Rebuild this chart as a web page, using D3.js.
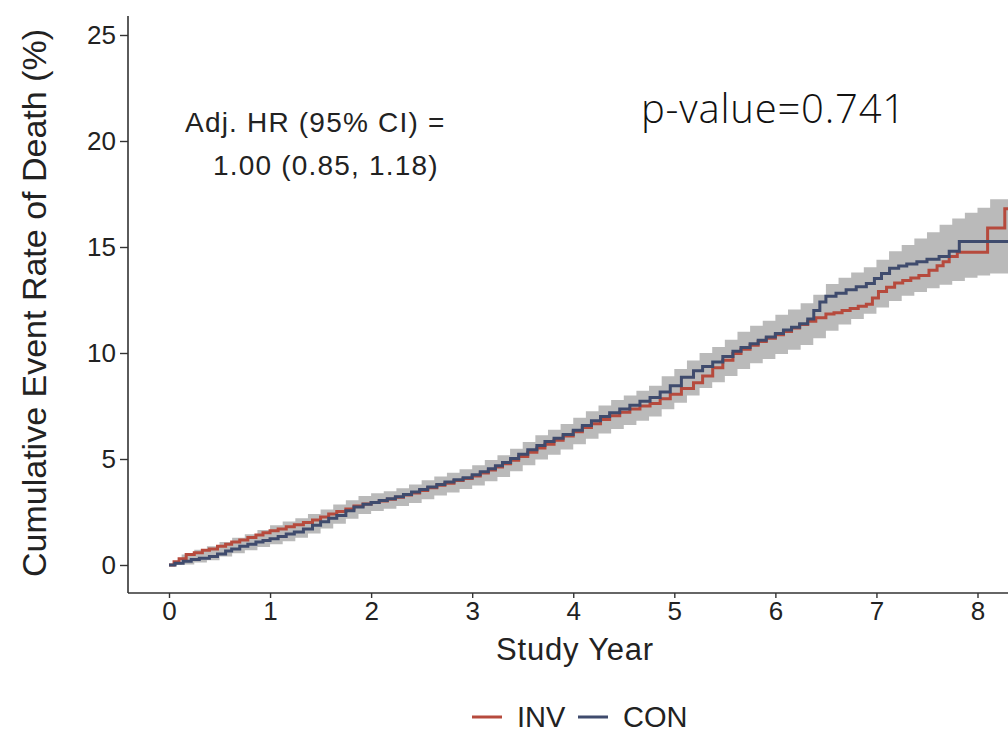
<!DOCTYPE html>
<html>
<head>
<meta charset="utf-8">
<script src="https://cdn.jsdelivr.net/npm/d3@7"></script>
<style>
  html, body { margin: 0; padding: 0; background: #fff; }
  svg { display: block; }
</style>
</head>
<body>
<svg id="chart" width="1008" height="732"></svg>
<script>
// Cumulative event rate of death (%) by study year, stepwise Kaplan-Meier style
const invTime = [0.00,0.05,0.10,0.17,0.25,0.33,0.40,0.48,0.56,0.62,0.70,0.78,0.86,0.93,1.00,1.08,1.16,1.24,1.33,1.42,1.50,1.58,1.66,1.75,1.83,1.92,2.00,2.08,2.16,2.24,2.32,2.40,2.48,2.56,2.65,2.73,2.82,2.91,3.00,3.08,3.16,3.23,3.30,3.38,3.46,3.55,3.64,3.72,3.81,3.90,4.00,4.09,4.18,4.27,4.36,4.46,4.56,4.66,4.76,4.86,4.96,5.07,5.19,5.28,5.38,5.48,5.58,5.66,5.75,5.83,5.91,6.00,6.08,6.16,6.24,6.32,6.40,6.50,6.58,6.66,6.74,6.82,6.90,6.96,7.02,7.10,7.18,7.26,7.34,7.42,7.52,7.60,7.66,7.72,7.80,8.10,8.27,8.40];
const invRate = [0.00,0.15,0.30,0.50,0.58,0.70,0.76,0.88,0.98,1.08,1.18,1.30,1.42,1.52,1.62,1.70,1.80,1.90,2.00,2.12,2.26,2.40,2.52,2.64,2.78,2.88,2.95,3.02,3.10,3.20,3.30,3.40,3.52,3.64,3.76,3.86,3.98,4.08,4.20,4.34,4.48,4.62,4.78,4.94,5.12,5.32,5.52,5.70,5.88,6.08,6.28,6.48,6.66,6.86,7.04,7.20,7.36,7.50,7.62,7.84,8.06,8.32,8.60,8.92,9.30,9.66,9.98,10.18,10.36,10.54,10.70,10.86,11.02,11.18,11.34,11.50,11.66,11.84,11.90,12.00,12.10,12.20,12.30,12.60,12.90,13.10,13.30,13.42,13.54,13.66,13.90,14.12,14.30,14.55,14.75,15.90,16.80,16.80];

const conTime = [0.00,0.06,0.14,0.22,0.30,0.40,0.48,0.56,0.62,0.70,0.78,0.86,0.93,1.00,1.08,1.16,1.24,1.33,1.42,1.50,1.58,1.66,1.75,1.83,1.92,2.00,2.08,2.16,2.24,2.32,2.40,2.48,2.56,2.65,2.73,2.82,2.91,3.00,3.08,3.16,3.23,3.30,3.38,3.46,3.55,3.64,3.72,3.81,3.90,4.00,4.09,4.18,4.27,4.36,4.46,4.56,4.66,4.76,4.86,4.96,5.07,5.19,5.28,5.38,5.48,5.58,5.66,5.75,5.83,5.91,6.00,6.08,6.16,6.24,6.32,6.38,6.44,6.50,6.60,6.70,6.80,6.90,6.98,7.05,7.13,7.22,7.30,7.40,7.50,7.62,7.72,7.82,8.40];
const conRate = [0.00,0.08,0.18,0.26,0.32,0.40,0.52,0.66,0.76,0.88,0.98,1.08,1.16,1.24,1.34,1.46,1.56,1.70,1.88,2.04,2.20,2.34,2.56,2.74,2.86,2.95,3.04,3.12,3.22,3.32,3.44,3.56,3.68,3.80,3.92,4.02,4.12,4.26,4.40,4.54,4.68,4.84,5.02,5.22,5.44,5.64,5.82,5.98,6.16,6.36,6.58,6.80,7.00,7.18,7.36,7.54,7.72,7.90,8.16,8.46,8.86,9.16,9.36,9.58,9.84,10.08,10.26,10.44,10.60,10.76,10.92,11.08,11.22,11.38,11.60,12.00,12.40,12.68,12.82,12.98,13.12,13.28,13.52,13.75,14.00,14.10,14.20,14.30,14.42,14.55,14.80,15.26,15.26];

// Pointwise confidence envelope
const bandTime = [0.000,0.125,0.250,0.375,0.500,0.625,0.750,0.875,1.000,1.125,1.250,1.375,1.500,1.625,1.750,1.875,2.000,2.125,2.250,2.375,2.500,2.625,2.750,2.875,3.000,3.125,3.250,3.375,3.500,3.625,3.750,3.875,4.000,4.125,4.250,4.375,4.500,4.625,4.750,4.875,5.000,5.125,5.250,5.375,5.500,5.625,5.750,5.875,6.000,6.125,6.250,6.375,6.500,6.625,6.750,6.875,7.000,7.125,7.250,7.375,7.500,7.625,7.750,7.875,8.000,8.125,8.400];
const bandLow  = [0.00,0.02,0.12,0.22,0.40,0.55,0.70,0.85,0.98,1.12,1.28,1.48,1.72,1.95,2.18,2.40,2.55,2.65,2.78,2.92,3.10,3.28,3.42,3.58,3.75,3.95,4.15,4.42,4.70,4.98,5.20,5.45,5.70,5.95,6.20,6.42,6.60,6.80,7.00,7.35,7.65,8.00,8.35,8.62,8.92,9.25,9.52,9.72,9.95,10.15,10.38,10.70,11.05,11.35,11.60,11.85,12.15,12.45,12.70,12.88,13.05,13.22,13.40,13.55,13.65,13.75,13.75];
const bandHigh = [0.05,0.50,0.72,0.88,1.08,1.28,1.45,1.65,1.88,2.05,2.20,2.40,2.62,2.85,3.05,3.25,3.38,3.48,3.62,3.80,4.00,4.18,4.35,4.52,4.70,4.95,5.18,5.48,5.80,6.12,6.38,6.65,6.95,7.25,7.52,7.78,8.00,8.22,8.45,8.90,9.25,9.65,10.00,10.28,10.62,11.00,11.28,11.52,11.80,12.05,12.35,12.75,13.25,13.55,13.80,14.05,14.40,14.80,15.10,15.40,15.70,16.05,16.35,16.62,16.85,17.25,17.25];

const xTicks = [0,1,2,3,4,5,6,7,8];
const yTicks = [0,5,10,15,20,25];
const groupNames = ["INV", "CON"];
const groupColors = ["#b64a3d", "#3f4b6d"];

const svg = d3.select("#chart");
const axisFont = "'Liberation Sans', Arial, sans-serif";

const x = d3.scaleLinear().domain([0, 8]).range([169, 977.5]);
const y = d3.scaleLinear().domain([0, 25]).range([565, 35]);

const plotLeft = 128, plotBottom = 593, plotTop = 16, plotRight = 1008;

svg.append("defs").append("clipPath").attr("id", "plotClip")
  .append("rect").attr("x", plotLeft).attr("y", plotTop)
  .attr("width", plotRight - plotLeft).attr("height", plotBottom - plotTop);

const plot = svg.append("g").attr("clip-path", "url(#plotClip)");

// confidence band
const bandData = bandTime.map((t, i) => ({ t, lo: bandLow[i], hi: bandHigh[i] }));
plot.append("path")
  .datum(bandData)
  .attr("fill", "#bababa")
  .attr("d", d3.area().curve(d3.curveStepAfter)
    .x(d => x(d.t)).y0(d => y(d.lo)).y1(d => y(d.hi)));

// step curves
const stepLine = d3.line().curve(d3.curveStepAfter).x(d => x(d.t)).y(d => y(d.v));
const series = [
  { name: groupNames[0], color: groupColors[0], data: invTime.map((t, i) => ({ t, v: invRate[i] })) },
  { name: groupNames[1], color: groupColors[1], data: conTime.map((t, i) => ({ t, v: conRate[i] })) }
];
series.forEach(s => {
  plot.append("path")
    .datum(s.data)
    .attr("fill", "none")
    .attr("stroke", s.color)
    .attr("stroke-width", 3)
    .attr("d", stepLine);
});

// axes
const yAxis = svg.append("g")
  .attr("transform", `translate(${plotLeft},0)`)
  .call(d3.axisLeft(y).tickValues(yTicks).tickSize(8).tickPadding(4));
yAxis.select(".domain").remove();
yAxis.append("line").attr("x1", 0).attr("x2", 0).attr("y1", plotTop).attr("y2", plotBottom)
  .attr("stroke", "#333").attr("stroke-width", 1.6);

const xAxis = svg.append("g")
  .attr("transform", `translate(0,${plotBottom})`)
  .call(d3.axisBottom(x).tickValues(xTicks).tickSize(5).tickPadding(4));
xAxis.select(".domain").remove();
xAxis.append("line").attr("x1", plotLeft).attr("x2", plotRight).attr("y1", 0).attr("y2", 0)
  .attr("stroke", "#333").attr("stroke-width", 1.6);

[yAxis, xAxis].forEach(g => {
  g.selectAll(".tick line").attr("stroke", "#333").attr("stroke-width", 1.4);
  g.selectAll(".tick text")
    .attr("fill", "#222")
    .style("font-family", axisFont)
    .style("font-size", "26px");
});

// axis titles
svg.append("text")
  .attr("transform", "translate(46,303) rotate(-90)")
  .attr("text-anchor", "middle")
  .style("font-family", axisFont).style("font-size", "34px").attr("fill", "#222")
  .text("Cumulative Event Rate of Death (%)");

svg.append("text")
  .attr("x", 575).attr("y", 660)
  .attr("text-anchor", "middle")
  .style("font-family", axisFont).style("font-size", "31px").attr("fill", "#222")
  .style("letter-spacing", "0.8px")
  .text("Study Year");

// annotations
svg.append("text")
  .attr("x", 185).attr("y", 132)
  .style("font-family", axisFont).style("font-size", "28px").attr("fill", "#222")
  .style("letter-spacing", "1.2px")
  .text("Adj. HR (95% CI) =");
svg.append("text")
  .attr("x", 213).attr("y", 175)
  .style("font-family", axisFont).style("font-size", "28px").attr("fill", "#222")
  .style("letter-spacing", "1.2px")
  .text("1.00 (0.85, 1.18)");

svg.append("text")
  .attr("x", 641).attr("y", 123)
  .style("font-family", "'Open Sans', 'Noto Sans', sans-serif")
  .style("font-weight", 300)
  .style("font-size", "40px").attr("fill", "#111")
  .style("letter-spacing", "0.8px")
  .text("p-value=0.741");

// legend
const legend = svg.append("g").attr("transform", "translate(0,717)");
const legendX = [472, 578];
series.forEach((s, i) => {
  legend.append("line")
    .attr("x1", legendX[i]).attr("x2", legendX[i] + 30)
    .attr("y1", 0).attr("y2", 0)
    .attr("stroke", s.color).attr("stroke-width", 3);
  legend.append("text")
    .attr("x", legendX[i] + 45).attr("y", 10)
    .style("font-family", axisFont).style("font-size", "29px").attr("fill", "#222")
    .text(s.name);
});
</script>
</body>
</html>
